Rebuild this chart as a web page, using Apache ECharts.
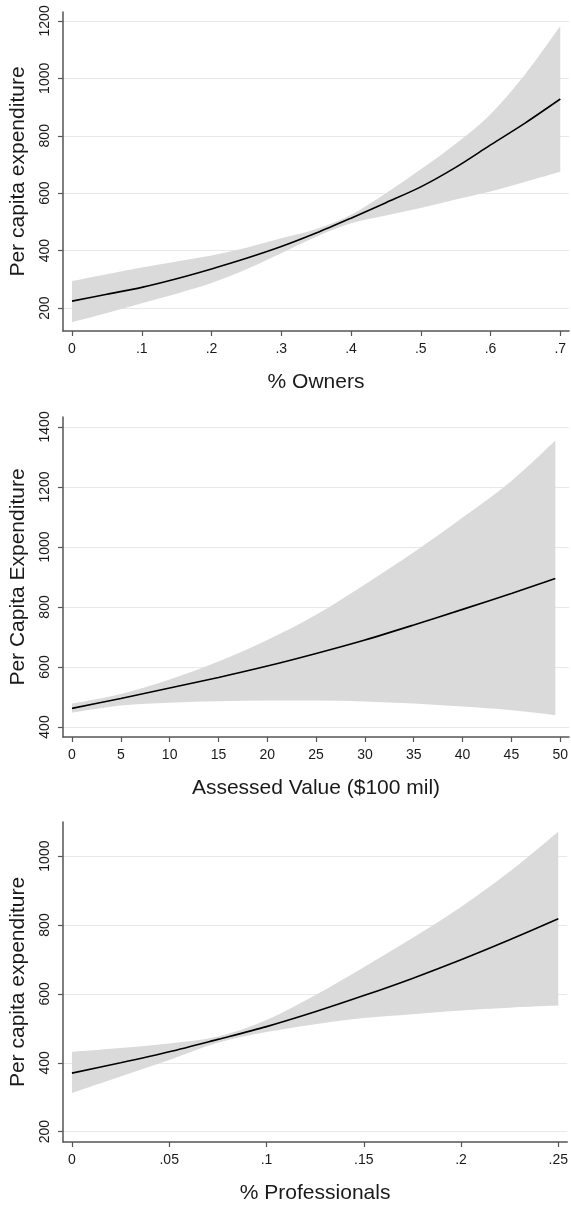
<!DOCTYPE html>
<html>
<head>
<meta charset="utf-8">
<script src="https://cdn.jsdelivr.net/npm/echarts@6/dist/echarts.min.js"></script>
<style>
  html, body { margin: 0; padding: 0; background: #fff; }
  #chart { width: 571px; height: 1205px; }
</style>
</head>
<body>
<div id="chart"></div>
<script>
// Panel 1: % Owners
const ownersX     = [0, 0.05, 0.1, 0.15, 0.2, 0.25, 0.3, 0.35, 0.4, 0.45, 0.5, 0.55, 0.6, 0.65, 0.7];
const ownersFit   = [224, 248, 272, 302, 336, 373, 414, 461, 513, 567, 622, 690, 768, 845, 928];
const ownersUpper = [294, 318, 341, 362, 383, 410, 443, 475, 525, 600, 683, 772, 875, 1015, 1182];
const ownersLower = [151, 183, 217, 250, 287, 335, 391, 448, 495, 522, 548, 578, 606, 640, 675];
const ownersXTicks = [0, 0.1, 0.2, 0.3, 0.4, 0.5, 0.6, 0.7];
const ownersYTicks = [200, 400, 600, 800, 1000, 1200];

// Panel 2: Assessed value ($100 mil)
const valueX     = [0, 5, 10, 15, 20, 25, 30, 35, 40, 45, 49.5];
const valueFit   = [462, 495, 530, 565, 603, 645, 690, 740, 792, 845, 895];
const valueUpper = [478, 510, 558, 618, 690, 774, 875, 982, 1098, 1220, 1355];
const valueLower = [448, 472, 481, 486, 488, 488, 485, 478, 468, 456, 440];
const valueXTicks = [0, 5, 10, 15, 20, 25, 30, 35, 40, 45, 50];
const valueYTicks = [400, 600, 800, 1000, 1200, 1400];

// Panel 3: % Professionals
const profX     = [0, 0.025, 0.05, 0.075, 0.1, 0.125, 0.15, 0.175, 0.2, 0.225, 0.25];
const profFit   = [370, 400, 432, 468, 505, 548, 595, 645, 699, 757, 818];
const profUpper = [432, 443, 456, 476, 524, 596, 677, 762, 852, 955, 1071];
const profLower = [312, 360, 408, 458, 489, 512, 530, 541, 552, 560, 566];
const profXTicks = [0, 0.05, 0.1, 0.15, 0.2, 0.25];
const profYTicks = [200, 400, 600, 800, 1000];

const FONT = "'Liberation Sans', Arial, sans-serif";
const TEXT = '#1a1a1a';
const AXIS = '#555555';
const BAND = '#dadada';

// Stata-style decimal labels: ".1" rather than "0.1"
const dec = v => (v === 0 ? '0' : String(v).replace(/^0\./, '.'));
const plain = v => String(v);

function xAxisFor(idx, name, min, max, ticks, fmt) {
  return {
    type: 'value', gridIndex: idx, min, max,
    name, nameLocation: 'middle', nameGap: 41,
    nameTextStyle: { fontFamily: FONT, fontSize: 21, color: TEXT },
    axisLine: { show: true, onZero: false, lineStyle: { color: AXIS, width: 1.5 } },
    axisTick: { show: true, length: 5, customValues: ticks, lineStyle: { color: AXIS, width: 1.2 } },
    axisLabel: { customValues: ticks, formatter: fmt, margin: 11,
                 fontFamily: FONT, fontSize: 14, color: TEXT },
    splitLine: { show: false }
  };
}

function yAxisFor(idx, name, min, max, ticks) {
  return {
    type: 'value', gridIndex: idx, min, max,
    name, nameLocation: 'middle', nameGap: 34,
    nameTextStyle: { fontFamily: FONT, fontSize: 21, color: TEXT },
    axisLine: { show: true, onZero: false, lineStyle: { color: AXIS, width: 1.5 } },
    axisTick: { show: true, length: 5, customValues: ticks, lineStyle: { color: AXIS, width: 1.2 } },
    axisLabel: { customValues: ticks, formatter: plain, rotate: 90, margin: 11,
                 fontFamily: FONT, fontSize: 14, color: TEXT },
    splitLine: { show: true, lineStyle: { color: '#e8e8e8', width: 1 } }
  };
}

// Smooth edge through pixel points (Catmull-Rom as cubic Bezier segments)
function curveTo(pts) {
  let d = '';
  for (let i = 0; i < pts.length - 1; i++) {
    const p0 = pts[Math.max(i - 1, 0)], p1 = pts[i], p2 = pts[i + 1], p3 = pts[Math.min(i + 2, pts.length - 1)];
    const c1 = [p1[0] + (p2[0] - p0[0]) / 6, p1[1] + (p2[1] - p0[1]) / 6];
    const c2 = [p2[0] - (p3[0] - p1[0]) / 6, p2[1] - (p3[1] - p1[1]) / 6];
    d += ' C' + c1[0] + ',' + c1[1] + ' ' + c2[0] + ',' + c2[1] + ' ' + p2[0] + ',' + p2[1];
  }
  return d;
}

// Confidence band: one filled shape between the upper and lower bounds
function bandRender(params, api) {
  if (params.dataIndexInside !== 0) return null;
  const n = params.dataInsideLength;
  const up = [], lo = [];
  for (let i = 0; i < n; i++) {
    const x = api.value(0, i);
    up.push(api.coord([x, api.value(1, i)]));
    lo.push(api.coord([x, api.value(2, i)]));
  }
  const loRev = lo.slice().reverse();
  const d = 'M' + up[0][0] + ',' + up[0][1] + curveTo(up) +
            ' L' + loRev[0][0] + ',' + loRev[0][1] + curveTo(loRev) + ' Z';
  return {
    type: 'path',
    shape: { pathData: d },
    style: { fill: BAND, stroke: null }
  };
}

function panelSeries(idx, xs, fit, upper, lower) {
  return [
    {
      type: 'custom', xAxisIndex: idx, yAxisIndex: idx,
      renderItem: bandRender, clip: true, silent: true,
      encode: { x: 0, y: [1, 2] },
      data: xs.map((x, i) => [x, upper[i], lower[i]]), z: 1
    },
    {
      type: 'line', xAxisIndex: idx, yAxisIndex: idx,
      data: xs.map((x, i) => [x, fit[i]]), showSymbol: false, silent: true, smooth: 0.3,
      lineStyle: { color: '#000', width: 1.6 }, z: 3
    }
  ];
}

const chart = echarts.init(document.getElementById('chart'), null, { renderer: 'canvas' });
chart.setOption({
  backgroundColor: '#ffffff',
  animation: false,
  grid: [
    { left: 62, right: 2, top: 12,  height: 319 },
    { left: 61, right: 2, top: 417, height: 320 },
    { left: 62, right: 2, top: 822, height: 320 }
  ],
  xAxis: [
    xAxisFor(0, '% Owners', -0.0129, 0.7125, ownersXTicks, dec),
    xAxisFor(1, 'Assessed Value ($100 mil)', -0.92, 50.9, valueXTicks, plain),
    xAxisFor(2, '% Professionals', -0.0046, 0.2546, profXTicks, dec)
  ],
  yAxis: [
    yAxisFor(0, 'Per capita expenditure', 120, 1231, ownersYTicks),
    yAxisFor(1, 'Per Capita Expenditure', 366.7, 1433, valueYTicks),
    yAxisFor(2, 'Per capita expenditure', 170, 1099, profYTicks)
  ],
  series: [
    ...panelSeries(0, ownersX, ownersFit, ownersUpper, ownersLower),
    ...panelSeries(1, valueX, valueFit, valueUpper, valueLower),
    ...panelSeries(2, profX, profFit, profUpper, profLower)
  ]
});
</script>
</body>
</html>
